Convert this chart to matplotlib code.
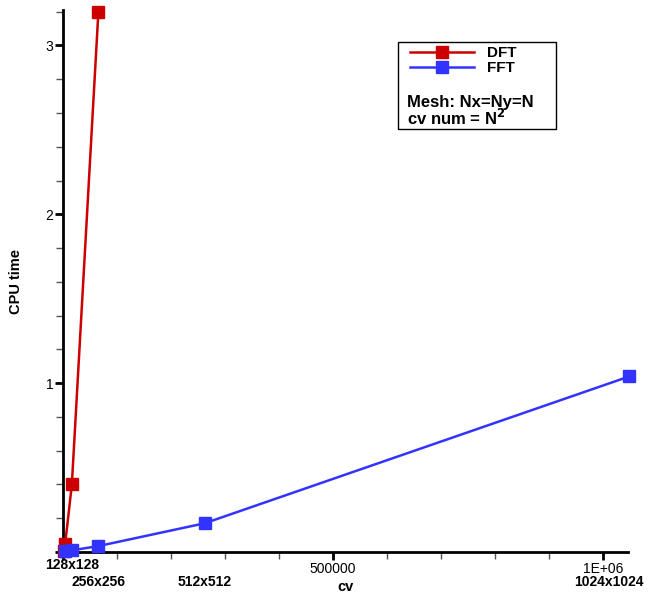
import matplotlib
matplotlib.use("Agg")
import matplotlib.pyplot as plt
from matplotlib.patches import Rectangle
from matplotlib.ticker import MultipleLocator, FuncFormatter

plt.rcParams['font.family'] = ['Liberation Sans', 'DejaVu Sans']

# data
dft_cv = [1024, 4096, 16384, 65536]
dft_time = [0.005, 0.05, 0.40, 3.20]
fft_cv = [4096, 16384, 65536, 262144, 1048576]
fft_time = [0.003, 0.01, 0.035, 0.17, 1.04]
mesh_labels = ["128x128", "256x256", "512x512", "1024x1024"]
mesh_cv = [16384, 65536, 262144, 1048576]

fig = plt.figure(figsize=(6.48, 5.98), dpi=100)
ax = fig.add_axes([63 / 648, 46 / 598, 565 / 648, 542 / 598])

ax.plot(dft_cv, dft_time, color='#cc0000', lw=1.8, marker='s', ms=8.5,
        label='DFT', clip_on=False, zorder=3)
ax.plot(fft_cv, fft_time, color='#3333ff', lw=1.8, marker='s', ms=8.5,
        label='FFT', clip_on=False, zorder=4)

ax.set_xlim(0, 1.046e6)
ax.set_ylim(0, 3.21)

for s in ['top', 'right']:
    ax.spines[s].set_visible(False)
for s in ['left', 'bottom']:
    ax.spines[s].set_linewidth(2)

ax.xaxis.set_major_locator(MultipleLocator(500000))
ax.xaxis.set_minor_locator(MultipleLocator(100000))
ax.yaxis.set_major_locator(MultipleLocator(1))
ax.yaxis.set_minor_locator(MultipleLocator(0.2))
ax.xaxis.set_major_formatter(FuncFormatter(
    lambda v, p: "" if v == 0 else ("1E+06" if v == 1e6 else f"{int(v)}")))
ax.yaxis.set_major_formatter(FuncFormatter(lambda v, p: "" if v == 0 else f"{int(v)}"))
ax.tick_params(which='major', direction='out', length=6, width=2, labelsize=10, pad=1)
ax.tick_params(which='minor', direction='out', length=5, width=1, color='#555555')

ax.set_xlabel("cv", fontweight='bold', fontsize=10.5, labelpad=3)
ax.set_ylabel("CPU time", fontweight='bold', fontsize=10.5)
ax.yaxis.set_label_coords(-40 / 565, 0.5)

# mesh size labels under the x axis
offsets = [(0, -9.5), (0, -21.5), (0, -21.5), (-15, -21.5)]
for lab, cv, off in zip(mesh_labels, mesh_cv, offsets):
    ax.annotate(lab, xy=(cv, 0), xycoords=('data', 'axes fraction'),
                xytext=off, textcoords='offset points', ha='center', va='center',
                fontsize=10, fontweight='bold', annotation_clip=False)

leg = ax.legend(loc='upper left', frameon=False, handlelength=4.2,
                handletextpad=0.8, labelspacing=0.05, borderpad=0.3,
                prop={'weight': 'bold', 'size': 11})
leg.set_bbox_to_anchor((398 / 648, 1 - 34 / 598), transform=fig.transFigure)

fig.patches.append(Rectangle((398 / 648, 1 - 129 / 598), 158 / 648, 87 / 598,
                             transform=fig.transFigure, fill=False,
                             edgecolor='black', lw=1))
fig.text(407 / 648, 1 - 102 / 598, "Mesh: Nx=Ny=N", fontsize=12,
         fontweight='bold', va='center')
fig.text(407 / 648, 1 - 118 / 598, r"cv num = N$^\mathbf{2}$", fontsize=12,
         fontweight='bold', va='center')

fig.savefig("out.png", dpi=100)
